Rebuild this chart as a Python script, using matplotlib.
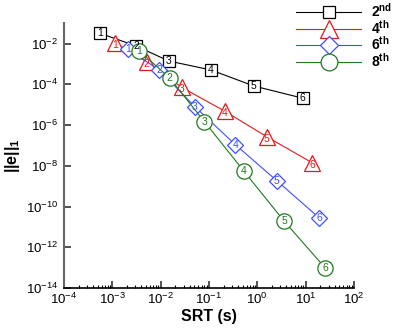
import matplotlib
matplotlib.use("Agg")
import matplotlib.pyplot as plt
from matplotlib.ticker import LogLocator, FixedLocator, NullFormatter

plt.rcParams['font.family'] = ['Liberation Sans', 'DejaVu Sans']
plt.rcParams['mathtext.fontset'] = 'custom'
plt.rcParams['mathtext.rm'] = 'Liberation Sans'
plt.rcParams['mathtext.bf'] = 'Liberation Sans:bold'
plt.rcParams['mathtext.it'] = 'Liberation Sans:italic'

labels = ['2$^{\\mathbf{nd}}$', '4$^{\\mathbf{th}}$', '6$^{\\mathbf{th}}$', '8$^{\\mathbf{th}}$']
colors = ['black', '#e31a1c', '#3f4fff', '#1e7a1e']
markers = ['s', '^', 'D', 'o']
point_ids = ['1', '2', '3', '4', '5', '6']

srt_2nd = [5.6e-4, 3.1e-3, 1.48e-2, 0.11, 0.85, 8.7]
err_2nd = [3.2e-2, 7.7e-3, 1.4e-3, 5.1e-4, 8.3e-5, 2.1e-5]
srt_4th = [1.14e-3, 5.1e-3, 2.7e-2, 0.21, 1.56, 13.7]
err_4th = [1.1e-2, 1.3e-3, 7.2e-5, 4.9e-6, 2.7e-7, 1.4e-8]
srt_6th = [2.1e-3, 9.3e-3, 5.1e-2, 0.35, 2.5, 19.0]
err_6th = [5.3e-3, 5.1e-4, 8.0e-6, 1.1e-7, 1.9e-9, 2.8e-11]
srt_8th = [3.6e-3, 1.55e-2, 0.08, 0.52, 3.6, 25.0]
err_8th = [4.5e-3, 2.0e-4, 1.5e-6, 5.7e-9, 1.9e-11, 1.0e-13]

series = [(srt_2nd, err_2nd), (srt_4th, err_4th), (srt_6th, err_6th), (srt_8th, err_8th)]
msizes = [8, 11.5, 8, 11]

fig = plt.figure(figsize=(3.94, 3.29), dpi=100)
ax = fig.add_axes([64/394, 1-288/329, 290/394, (288-23.3)/329])

for (xs, ys), lab, c, m, ms in zip(series, labels, colors, markers, msizes):
    ax.plot(xs, ys, color=c, lw=0.8, marker=m, ms=ms, mfc='white', mec=c, mew=0.9, label=lab)
    for x, y, t in zip(xs, ys, point_ids):
        dy = -1.5 if m == '^' else 0
        ax.annotate(t, (x, y), xytext=(0, dy), textcoords='offset points',
                    ha='center', va='center', fontsize=7.5, color=c)

ax.set_xscale('log')
ax.set_yscale('log')
ax.set_xlim(1e-4, 1e2)
ax.set_ylim(1e-14, 1e-1)

ax.set_xticks([1e-4, 1e-3, 1e-2, 1e-1, 1e0, 1e1, 1e2])
ax.set_xticklabels(['10$^{-4}$', '10$^{-3}$', '10$^{-2}$', '10$^{-1}$', '10$^{0}$', '10$^{1}$', '10$^{2}$'])
ax.xaxis.set_minor_locator(LogLocator(base=10, subs=range(2, 10), numticks=100))
ax.xaxis.set_minor_formatter(NullFormatter())
ax.set_yticks([1e-14, 1e-12, 1e-10, 1e-8, 1e-6, 1e-4, 1e-2])
ax.set_yticklabels(['10$^{-14}$', '10$^{-12}$', '10$^{-10}$', '10$^{-8}$', '10$^{-6}$', '10$^{-4}$', '10$^{-2}$'])
ax.yaxis.set_minor_locator(FixedLocator([]))

ax.tick_params(axis='both', which='major', direction='in', length=5, width=1.2, labelsize=9.5, color='#333333')
ax.tick_params(axis='x', which='minor', direction='in', length=2.5, width=0.8)
ax.tick_params(axis='y', pad=4)
ax.tick_params(axis='x', pad=3)

ax.spines['top'].set_visible(False)
ax.spines['right'].set_visible(False)
ax.spines['left'].set_color('#666666')
ax.spines['left'].set_linewidth(1.5)
ax.spines['bottom'].set_color('black')
ax.spines['bottom'].set_linewidth(1.2)

ax.set_xlabel('SRT (s)', fontsize=11.5, fontweight='bold', labelpad=1)
ax.set_ylabel('||e||$_{\\mathbf{1}}$', fontsize=11.5, fontweight='bold')
ax.yaxis.set_label_coords(-(64 - 22) / 290, 0.5)

leg = fig.legend(loc='upper left', bbox_to_anchor=(296/394, 1-2/329),
                 frameon=False, handlelength=4.7, handletextpad=0.7, labelspacing=-0.1,
                 prop={'weight': 'bold', 'size': 10}, borderaxespad=0, borderpad=0,
                 markerscale=1.1)

fig.savefig('out.png', dpi=100)
